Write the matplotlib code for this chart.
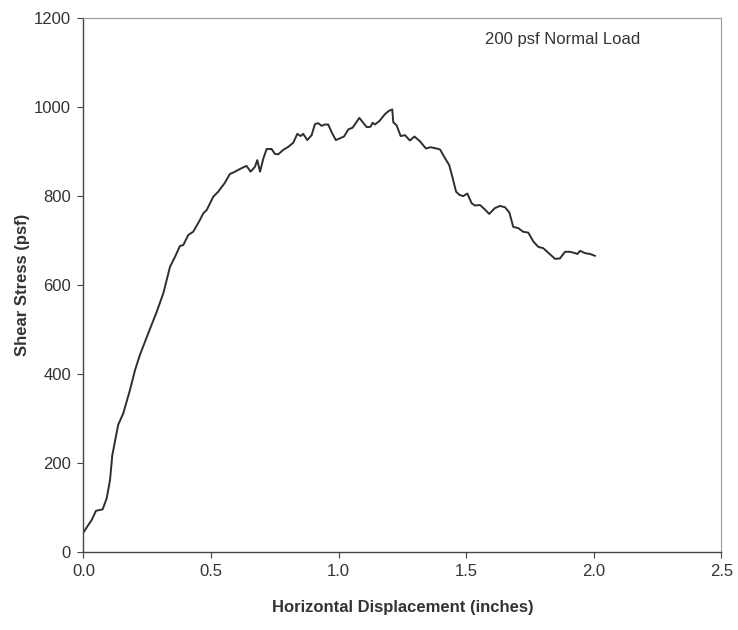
import matplotlib
matplotlib.use("Agg")
import matplotlib.pyplot as plt

displacement = [0.002, 0.019, 0.032, 0.049, 0.075, 0.091, 0.104, 0.113, 0.136, 0.156, 0.182, 0.202,
                0.221, 0.254, 0.287, 0.313, 0.339, 0.359, 0.378, 0.391, 0.411, 0.430, 0.456, 0.469,
                0.483, 0.509, 0.528, 0.554, 0.574, 0.587, 0.600, 0.620, 0.639, 0.655, 0.672, 0.681,
                0.692, 0.705, 0.718, 0.737, 0.750, 0.763, 0.783, 0.803, 0.822, 0.838, 0.851, 0.861,
                0.877, 0.894, 0.907, 0.920, 0.933, 0.946, 0.959, 0.973, 0.989, 1.005, 1.021, 1.038,
                1.055, 1.081, 1.096, 1.110, 1.125, 1.133, 1.142, 1.160, 1.181, 1.195, 1.210, 1.214,
                1.227, 1.243, 1.260, 1.279, 1.297, 1.319, 1.342, 1.359, 1.384, 1.397, 1.417, 1.433,
                1.447, 1.460, 1.473, 1.488, 1.504, 1.521, 1.534, 1.554, 1.573, 1.590, 1.612, 1.632,
                1.652, 1.669, 1.684, 1.704, 1.723, 1.743, 1.763, 1.782, 1.802, 1.821, 1.848, 1.867,
                1.887, 1.906, 1.926, 1.935, 1.946, 1.965, 1.985, 2.004]
shear_stress = [45, 60, 71, 92, 95, 120, 161, 217, 285, 311, 363, 408,
                442, 491, 539, 581, 640, 663, 687, 689, 712, 719, 745, 760,
                768, 798, 809, 829, 849, 852, 856, 862, 867, 854, 865, 880,
                854, 884, 905, 905, 894, 893, 903, 910, 919, 939, 934, 939,
                925, 936, 961, 963, 957, 960, 960, 942, 925, 929, 933, 949,
                953, 975, 964, 954, 955, 964, 960, 968, 983, 990, 994, 965,
                958, 934, 936, 924, 933, 922, 906, 909, 906, 904, 884, 869,
                839, 809, 802, 799, 805, 783, 778, 779, 769, 759, 772, 777,
                774, 762, 730, 727, 719, 717, 697, 685, 682, 672, 658, 659,
                674, 674, 671, 669, 676, 671, 669, 665]

x_ticks = [0.0, 0.5, 1.0, 1.5, 2.0, 2.5]
x_ticklabels = ["0.0", "0.5", "1.0", "1.5", "2.0", "2.5"]
y_ticks = [0, 200, 400, 600, 800, 1000, 1200]

plt.rcParams['font.family'] = ['Liberation Sans', 'DejaVu Sans']

fig = plt.figure(figsize=(7.38, 6.30), dpi=100)
ax = fig.add_axes([0.1131, 0.1243, 0.9776 - 0.1131, 0.9719 - 0.1243])

ax.plot(displacement, shear_stress, color="#2e2e2e", linewidth=1.4)

ax.set_xlim(0, 2.5)
ax.set_ylim(0, 1200)
ax.set_xticks(x_ticks)
ax.set_xticklabels(x_ticklabels)
ax.set_yticks(y_ticks)
ax.tick_params(axis="both", direction="out", length=4, width=0.8, color="#444444",
               labelsize=12, labelcolor="#333333", pad=5)

for s in ["left", "bottom"]:
    ax.spines[s].set_color("#444444")
    ax.spines[s].set_linewidth(1.0)
for s in ["top", "right"]:
    ax.spines[s].set_color("#9a9a9a")
    ax.spines[s].set_linewidth(0.8)

ax.set_xlabel("Horizontal Displacement (inches)", fontsize=12, fontweight="bold",
              color="#333333", labelpad=15)
ax.set_ylabel("Shear Stress (psf)", fontsize=12, fontweight="bold", color="#333333",
              labelpad=3)

ax.text(0.7515, 0.96, "200 psf Normal Load", transform=ax.transAxes, ha="center",
        va="center", fontsize=12, color="#333333")

fig.savefig("out.png", dpi=100, facecolor="white")
